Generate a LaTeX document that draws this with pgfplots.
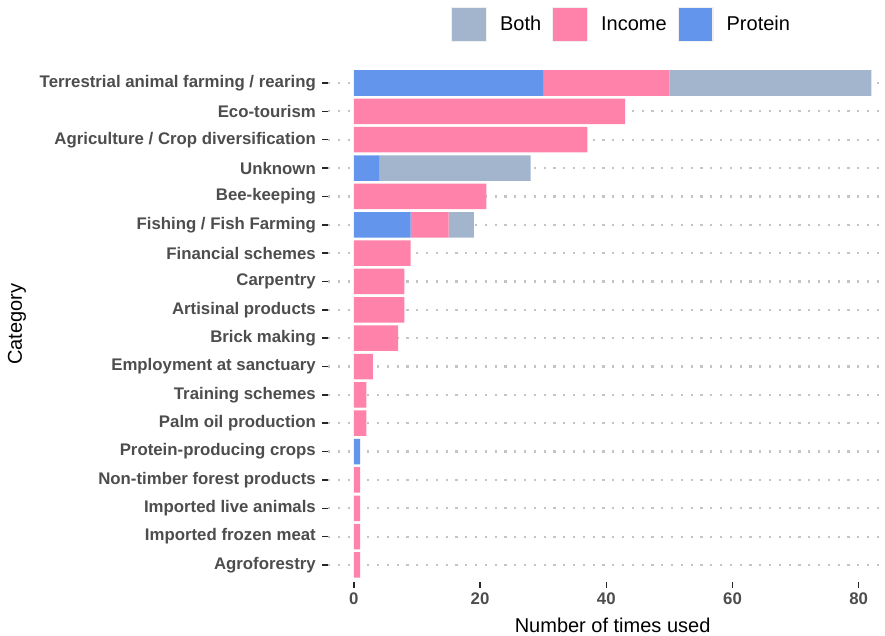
\documentclass[border=0pt]{standalone}
\usepackage{fontspec}
\setmainfont{Liberation Sans}
\usepackage{pgfplots}
\pgfplotsset{compat=1.18}

\definecolor{both}{HTML}{A2B5CD}
\definecolor{income}{HTML}{FF82AB}
\definecolor{protein}{HTML}{6495ED}
\definecolor{ticktext}{HTML}{4D4D4D}
\definecolor{gridgrey}{HTML}{C4C4C4}

\begin{document}
\begin{tikzpicture}
\useasboundingbox (0,0) rectangle (885pt,636pt);
\begin{axis}[
	xbar stacked,
	at={(328pt,54pt)}, anchor=south west,
	scale only axis,
	width=569.2pt, height=516pt,
	bar width=0.9,
	xmin=-4.1, xmax=86.1,
	ymin=-0.6, ymax=17.6,
	axis lines=left,
	axis line style={draw=none},
	tick align=outside,
	major tick length=6pt,
	tick style={color=black!85, line width=1.5pt},
	xtick={0,20,40,60,80},
	ytick={0,...,17},
	yticklabels={Agroforestry, Imported frozen meat, Imported live animals,
		Non-timber forest products, Protein-producing crops, Palm oil production,
		Training schemes, Employment at sanctuary, Brick making,
		Artisinal products, Carpentry, Financial schemes, Fishing / Fish Farming,
		Bee-keeping, Unknown, Agriculture / Crop diversification, Eco-tourism,
		Terrestrial animal farming / rearing},
	/pgf/number format/assume math mode=true,
	ticklabel style={font=\bfseries\fontsize{16.8}{18}\selectfont, text=ticktext},
	yticklabel style={inner sep=0pt, xshift=-6pt},
	xticklabel style={inner sep=0pt, yshift=-5pt},
	ymajorgrids,
	major grid style={color=gridgrey, line width=2.2pt, dash pattern=on 2.2pt off 7.6pt},
	xlabel={Number of times used},
	ylabel={Category},
	label style={font=\fontsize{20}{24}\selectfont, text=black},
	xlabel style={at={(rel axis cs:0.5,-0.0988)}, anchor=base},
	ylabel style={at={(rel axis cs:-0.5464,0.5)}, anchor=center, rotate=0},
	reverse legend,
	legend columns=3,
	legend style={at={(rel axis cs:0.2161,1.0804)}, anchor=west, draw=none,
		inner sep=0pt, fill=none,
		font=\fontsize{20}{24}\selectfont,
		nodes={inner sep=0pt},
		/tikz/every odd column/.append style={column sep=13pt},
		/tikz/every even column/.append style={column sep=11pt}},
	legend image code/.code={
		\draw[#1, draw=black!6, line width=1.2pt] (0pt,-17.35pt) rectangle (34.7pt,17.35pt);
	},
]
\addplot[fill=protein, draw=none] coordinates {
	(30,17) (0,16) (0,15) (4,14) (0,13) (9,12) (0,11) (0,10) (0,9)
	(0,8) (0,7) (0,6) (0,5) (1,4) (0,3) (0,2) (0,1) (0,0)
};
\addplot[fill=income, draw=none] coordinates {
	(20,17) (43,16) (37,15) (0,14) (21,13) (6,12) (9,11) (8,10) (8,9)
	(7,8) (3,7) (2,6) (2,5) (0,4) (1,3) (1,2) (1,1) (1,0)
};
\addplot[fill=both, draw=none] coordinates {
	(32,17) (0,16) (0,15) (24,14) (0,13) (4,12) (0,11) (0,10) (0,9)
	(0,8) (0,7) (0,6) (0,5) (0,4) (0,3) (0,2) (0,1) (0,0)
};
\legend{Protein, Income, Both}
\end{axis}
\end{tikzpicture}
\end{document}
